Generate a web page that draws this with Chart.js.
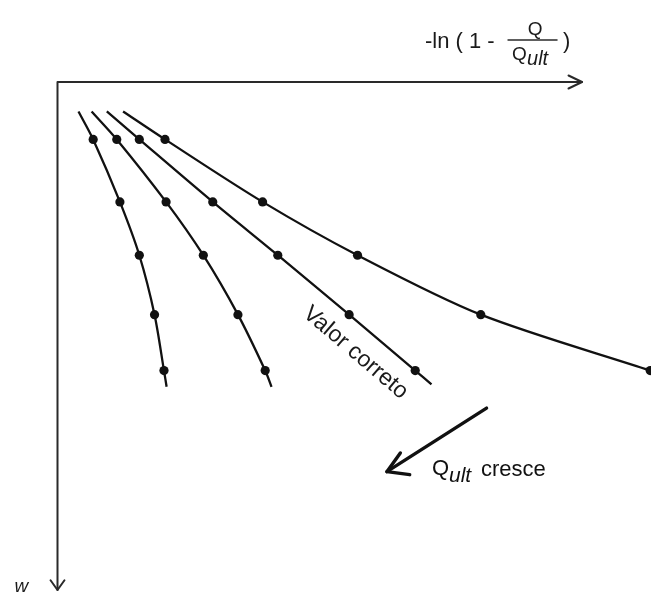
<!DOCTYPE html>
<html>
<head>
<meta charset="utf-8">
<script src="https://cdn.jsdelivr.net/npm/chart.js@4"></script>
<style>
  html, body { margin: 0; padding: 0; background: #fff; }
  canvas { display: block; }
</style>
</head>
<body>
<canvas id="chart" width="651" height="592"></canvas>
<script>
// settlement levels (w) shared by every load test curve
const wStart = 0.58;
const wLevels = [1.13, 2.36, 3.41, 4.58, 5.68];

// -ln(1 - Q/Qult) for each trial Qult, one value per w level
const curveSmallQ = [0.68, 1.19, 1.56, 1.85, 2.03];
const curveMidQ = [1.13, 2.07, 2.78, 3.44, 3.96];
const curveCorrect = [1.56, 2.96, 4.20, 5.56, 6.82];
const curveLargeQ = [2.05, 3.91, 5.72, 8.07, 11.30];

// where each line begins (at wStart) and where it runs out past the last dot
const lineStarts = [0.40, 0.65, 0.94, 1.25];
const lineEnds = [[2.08, 6.00], [4.08, 6.00], [7.13, 5.95], null];

// the drawn x axis stops at 10, the plot runs on to the right edge
const AXIS_END = 10;
const X_MAX = 11.315;

const FONT = '"Liberation Sans", Arial, sans-serif';
const INK = "#111";

function buildCurve(startX, xs, end) {
  const pts = [{ x: startX, y: wStart }];
  xs.forEach((x, i) => pts.push({ x: x, y: wLevels[i] }));
  if (end) pts.push({ x: end[0], y: end[1] });
  return {
    data: pts,
    showLine: true,
    borderColor: INK,
    borderWidth: 2.3,
    backgroundColor: INK,
    pointBackgroundColor: INK,
    pointBorderWidth: 0,
    pointRadius: (ctx) => (ctx.dataIndex >= 1 && ctx.dataIndex <= xs.length ? 4.6 : 0),
    tension: 0.3,
    clip: false,
  };
}

const allCurves = [curveSmallQ, curveMidQ, curveCorrect, curveLargeQ];
const datasets = allCurves.map((xs, i) => buildCurve(lineStarts[i], xs, lineEnds[i]));

function arrowHead(ctx, tipX, tipY, ang, len, spreadA, spreadB) {
  ctx.beginPath();
  ctx.moveTo(tipX + len * Math.cos(ang - spreadA), tipY + len * Math.sin(ang - spreadA));
  ctx.lineTo(tipX, tipY);
  ctx.lineTo(tipX + len * Math.cos(ang + spreadB), tipY + len * Math.sin(ang + spreadB));
  ctx.stroke();
}

// axes with arrows, axis titles and the notes on the plot
const sketchPlugin = {
  id: "sketch",
  afterDatasetsDraw(chart) {
    const ctx = chart.ctx;
    const sx = chart.scales.x, sy = chart.scales.y;
    const px = (v) => sx.getPixelForValue(v);
    const py = (v) => sy.getPixelForValue(v);
    const ox = px(0), oy = py(0), ex = px(AXIS_END), ey = py(10);

    ctx.save();
    ctx.strokeStyle = "#2a2a2a";
    ctx.fillStyle = "#1a1a1a";
    ctx.lineWidth = 2;
    ctx.lineCap = "round";
    ctx.lineJoin = "round";

    // axes
    ctx.beginPath();
    ctx.moveTo(ex, oy);
    ctx.lineTo(ox, oy);
    ctx.lineTo(ox, ey);
    ctx.stroke();
    arrowHead(ctx, ex, oy, Math.PI, 15, 0.45, 0.45);
    arrowHead(ctx, ox, ey, -Math.PI / 2, 12, 0.62, 0.62);

    // x title: -ln ( 1 - Q / Qult )
    ctx.textBaseline = "alphabetic";
    ctx.textAlign = "left";
    ctx.font = "22px " + FONT;
    ctx.fillText("-ln ( 1 -", ex - 157, oy - 34);
    ctx.fillText(")", ex - 19, oy - 34);
    ctx.lineWidth = 1.4;
    ctx.beginPath();
    ctx.moveTo(ex - 74, oy - 42);
    ctx.lineTo(ex - 25, oy - 42);
    ctx.stroke();
    ctx.font = "19px " + FONT;
    ctx.textAlign = "center";
    ctx.fillText("Q", ex - 47, oy - 47);
    ctx.textAlign = "left";
    ctx.fillText("Q", ex - 70, oy - 22);
    ctx.font = "italic 20px " + FONT;
    ctx.fillText("ult", ex - 55, oy - 17);

    // y title
    ctx.font = "italic 19px " + FONT;
    ctx.fillText("w", ox - 43, ey + 2);

    // label along the curve with the right Qult
    ctx.save();
    ctx.translate(px(5.68), py(5.33));
    ctx.rotate((40.5 * Math.PI) / 180);
    ctx.font = "23px " + FONT;
    ctx.textAlign = "center";
    ctx.textBaseline = "middle";
    ctx.fillText("Valor correto", 0, 0);
    ctx.restore();

    // direction in which Qult grows
    const ax0 = px(8.18), ay0 = py(6.42), ax1 = px(6.28), ay1 = py(7.67);
    ctx.strokeStyle = INK;
    ctx.lineWidth = 3.4;
    ctx.beginPath();
    ctx.moveTo(ax0, ay0);
    ctx.lineTo(ax1, ay1);
    ctx.stroke();
    const back = Math.atan2(ay0 - ay1, ax0 - ax1);
    arrowHead(ctx, ax1, ay1, back, 23, 0.38, 0.7);

    const qx = px(7.14), qy = py(7.74);
    ctx.fillStyle = INK;
    ctx.textAlign = "left";
    ctx.textBaseline = "alphabetic";
    ctx.font = "22px " + FONT;
    ctx.fillText("Q", qx, qy);
    ctx.font = "italic 21px " + FONT;
    ctx.fillText("ult", qx + 17, qy + 7);
    ctx.font = "22px " + FONT;
    ctx.fillText("cresce", qx + 49, qy + 1);

    ctx.restore();
  },
};

new Chart(document.getElementById("chart"), {
  type: "scatter",
  data: { datasets: datasets },
  options: {
    responsive: false,
    animation: false,
    layout: { autoPadding: false, padding: { left: 57.5, right: 0, top: 82, bottom: 2 } },
    plugins: { legend: { display: false }, tooltip: { enabled: false } },
    scales: {
      x: { type: "linear", min: 0, max: X_MAX, display: false },
      y: { type: "linear", min: 0, max: 10, reverse: true, display: false },
    },
  },
  plugins: [sketchPlugin],
});
</script>
</body>
</html>
